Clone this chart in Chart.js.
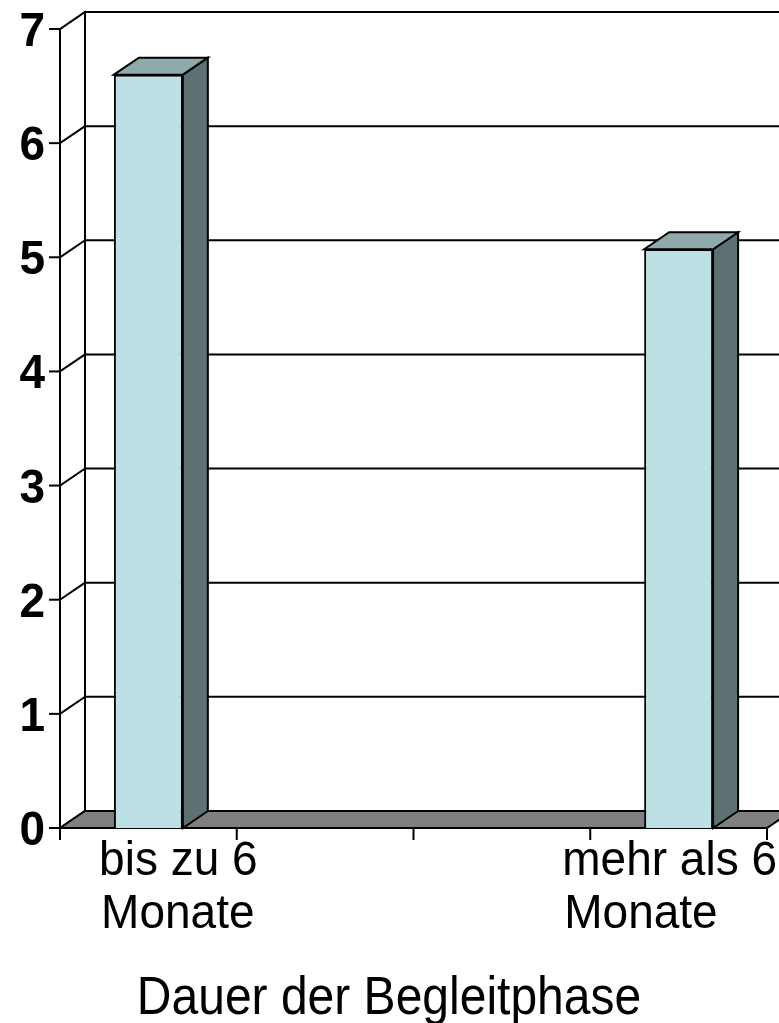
<!DOCTYPE html>
<html>
<head>
<meta charset="utf-8">
<script src="https://cdn.jsdelivr.net/npm/chart.js@4"></script>
<style>
  html, body { margin: 0; padding: 0; background: #fff; overflow: hidden; }
  #wrap { width: 779px; height: 1023px; overflow: hidden; }
</style>
</head>
<body>
<div id="wrap"><canvas id="chart" width="800" height="1023"></canvas></div>
<script>
  const categories = [['bis zu 6', 'Monate'], '', '', ['mehr als 6', 'Monate']];
  const values = [6.6, null, null, 5.07];
  const yTicks = [0, 1, 2, 3, 4, 5, 6, 7];
  const xTitle = 'Dauer der Begleitphase';

  // 3D depth offset of the back wall
  const DX = 25, DY = -17;
  const FONT = '"Liberation Sans", Arial, sans-serif';

  function line(ctx, x1, y1, x2, y2) {
    ctx.beginPath();
    ctx.moveTo(x1, y1);
    ctx.lineTo(x2, y2);
    ctx.stroke();
  }

  function poly(ctx, pts, fill) {
    ctx.beginPath();
    ctx.moveTo(pts[0][0], pts[0][1]);
    for (let i = 1; i < pts.length; i++) ctx.lineTo(pts[i][0], pts[i][1]);
    ctx.closePath();
    ctx.fillStyle = fill;
    ctx.fill();
    ctx.stroke();
  }

  // text a little taller than wide, as in the original
  function tallText(ctx, s, x, y, sy) {
    ctx.save();
    ctx.translate(x, y);
    ctx.scale(1, sy);
    ctx.fillText(s, 0, 0);
    ctx.restore();
  }

  const frame3d = {
    id: 'frame3d',
    beforeDatasetsDraw(chart) {
      const ctx = chart.ctx;
      const x = chart.scales.x, y = chart.scales.y;
      const left = x.left, right = x.right;
      const base = y.getPixelForValue(0);
      const top = y.getPixelForValue(yTicks[yTicks.length - 1]);
      const farRight = chart.width;

      ctx.save();
      ctx.strokeStyle = '#000';
      ctx.lineWidth = 2;
      ctx.lineCap = 'square';

      // back wall: left edge, gridlines and diagonals to the front axis
      line(ctx, left + DX, top + DY, left + DX, base + DY);
      yTicks.forEach(v => {
        const py = y.getPixelForValue(v);
        if (v > 0) line(ctx, left + DX, py + DY, farRight, py + DY);
        line(ctx, left, py, left + DX, py + DY);
        line(ctx, left - 10, py, left, py);
      });

      // floor
      poly(ctx, [[left, base], [right, base], [right + DX, base + DY], [left + DX, base + DY]], '#808080');

      // front value axis
      line(ctx, left, top, left, base + 11);

      // category axis with tick marks
      line(ctx, left, base, right, base);
      for (let i = 0; i <= categories.length; i++) {
        const px = left + (right - left) * i / categories.length;
        line(ctx, px, base, px, base + 11);
      }

      // value labels
      ctx.fillStyle = '#000';
      ctx.font = 'bold 46px ' + FONT;
      ctx.textAlign = 'right';
      ctx.textBaseline = 'alphabetic';
      yTicks.forEach(v => tallText(ctx, String(v), left - 15, y.getPixelForValue(v) + 17, 1.03));

      // category labels
      ctx.font = '46px ' + FONT;
      ctx.textAlign = 'left';
      categories.forEach((c, i) => {
        const lines = Array.isArray(c) ? c : [c];
        if (!lines[0]) return;
        const w = Math.max(...lines.map(s => ctx.measureText(s).width));
        let cx = x.getPixelForValue(i) + 30;
        cx = Math.min(cx, 777 - w / 2);
        lines.forEach((s, k) => tallText(ctx, s, cx - w / 2 + (k ? 2 : 0), base + 47 + k * 53, 1.05));
      });

      // axis title
      ctx.font = '48px ' + FONT;
      ctx.textAlign = 'center';
      tallText(ctx, xTitle, 389, 1014, 1.12);
      ctx.restore();
    },
    afterDatasetsDraw(chart) {
      const ctx = chart.ctx;
      const base = chart.scales.y.getPixelForValue(0);
      ctx.save();
      ctx.strokeStyle = '#000';
      ctx.lineWidth = 2;
      chart.getDatasetMeta(0).data.forEach((bar, i) => {
        if (values[i] == null) return;
        const p = bar.getProps(['x', 'y', 'width'], true);
        const l = p.x - p.width / 2, r = p.x + p.width / 2, t = p.y;
        poly(ctx, [[r, t], [r + DX, t + DY], [r + DX, base + DY], [r, base]], '#5e7172');
        poly(ctx, [[l, t], [l + DX, t + DY], [r + DX, t + DY], [r, t]], '#8eaaab');
      });
      ctx.restore();
    }
  };

  new Chart(document.getElementById('chart'), {
    type: 'bar',
    data: {
      labels: categories,
      datasets: [{
        data: values,
        backgroundColor: '#bce0e3',
        borderColor: '#000',
        borderWidth: 2,
        barPercentage: 0.39,
        categoryPercentage: 1
      }]
    },
    options: {
      responsive: false,
      animation: false,
      devicePixelRatio: 1,
      layout: { padding: { left: 60, right: 33, top: 29, bottom: 195 } },
      plugins: { legend: { display: false }, tooltip: { enabled: false } },
      scales: {
        x: { display: false },
        y: { display: false, min: 0, max: 7 }
      }
    },
    plugins: [frame3d]
  });
</script>
</body>
</html>
